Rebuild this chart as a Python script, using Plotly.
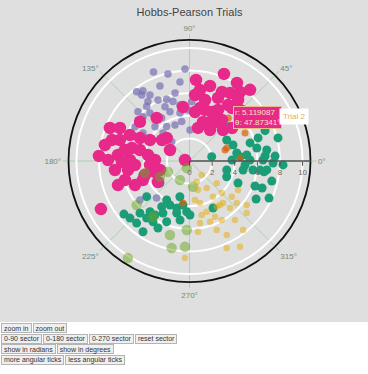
import json
import plotly.graph_objects as go

# ---------------- data ----------------
trial1_r = [4.7, 5.87, 7.2, 3.78, 4.1, 5.59, 6.06, 6.9, 2.0, 4.49, 5.35, 6.5, 3.39, 4.8, 5.67, 6.88,
            8.09, 6.7, 7.58, 7.39, 6.66, 7.49, 6.2, 6.78, 7.76, 3.57, 4.71, 4.65, 4.24, 5.09, 6.29,
            6.4, 4.92, 3.76, 8.28, 6.85,
            4.3, 3.26, 4.93, 4.0, 4.73, 3.27, 4.31, 3.94, 4.49, 5.69, 6.35, 7.21, 7.49, 6.27, 5.74,
            5.29, 4.78, 5.17, 5.67, 4.74, 6.31, 7.46, 4.26, 6.55, 7.29]
trial1_theta = [40.3, 36.3, 21.9, 29.4, 20.2, 16.6, 10.9, 8.1, 11, 4.9, 0.9, 0.8, 346.4, 350.5, 351.9,
                353.4, 14.6, 3.8, 3.3, 358.6, 351.8, 346.3, 339.1, 330.3, 335, 337.1, 335.6, 296.6,
                9.6, 6, 352.7,
                18.6, 355.9, 1.3, 357.6, 339.6,
                196.8, 216.7, 219.8, 239.7, 238.7, 254.9, 254.8, 261.6, 266.8, 232.1, 226.4, 229.6,
                236.7, 239, 249.4, 260.9, 270.5, 243, 237.4, 256.2, 233.1, 219, 246.1, 244.8, 223.8]

trial2_r = [5.119087, 5.5, 3.49, 4.48, 3.29, 3.76, 4.06]
trial2_theta = [47.87341, 26.8, 19.3, 3.4, 17.2, 261.2, 42.5]

trial3_r = [8.15, 7.93, 7.04, 7.13, 7.46, 7.71, 7.21, 6.81, 6.41, 6.08, 5.82, 6.15, 5.45, 5.27, 5.03,
            4.82, 4.51, 4.69, 4.33, 5.5, 5.68, 4.53, 3.55, 3.43, 3.65, 4.3, 5.4, 5.7, 4.8, 3.41,
            2.32, 2.74, 5.25, 6.12, 6.31, 5.58, 4.38, 8.5]
trial3_theta = [92.8, 103.9, 96.9, 111.5, 123.5, 127.3, 125.9, 120.9, 125, 117.3, 110.3, 102, 105.5,
                114.3, 99.6, 94.7, 91.7, 111.6, 101.2, 129.5, 136.4, 122.9, 101.2, 111.9, 123.6,
                135.2, 141.5, 147.8, 149, 133.4, 132.7, 89.1, 87.9, 128.2, 136.3, 218.2, 228.4, 112]

trial4_r = [8.28, 8.08, 8.26, 6.35, 6.88, 7.0, 5.57, 6.12, 6.01, 6.35, 4.77, 4.63, 3.65, 3.02, 3.29,
            4.76, 6.0, 5.86, 4.04, 4.81, 4.79, 5.59, 2.87, 0.41, 7.1, 6.35, 6.64, 5.95, 5.75, 4.49,
            3.96, 4.84, 3.05, 4.13, 2.73, 5.79, 8.02, 8.91, 4.45, 3.35, 6.81, 7.62, 1.98, 5.27,
            7.61, 5.5, 3.51, 4.83, 3.06, 6.67, 6.9, 4.36, 4.12,
            4.72, 5.17, 6.01, 3.9, 4.78, 6.75, 7.57, 7.19,
            6.43, 3.71, 5.97, 5.27, 3.2, 7.21, 5.22]
trial4_theta = [68.4, 58.7, 49.6, 81.6, 74.7, 59.2, 75.7, 65.7, 55.5, 45.3, 65.3, 51.6, 70.9, 75.6,
                56.5, 37.8, 35.1, 85.2, 42.8, 96.9, 127.3, 141.6, 134.7, 167.5, 164.8, 175.2, 186.9,
                196.4, 156.4, 167.5, 152, 184.2, 178.3, 197.5, 197, 170.3, 176.8, 208.5, 202.2,
                213.7, 154.6, 157.5, 150.6, 179, 169.3, 188.3, 185.8, 155.1, 142.6, 198.6, 51.5,
                83.6, 56.8,
                73.1, 60.8, 51.3, 62.3, 78.8, 64.8, 53.8, 85.4,
                163.2, 171.8, 180.8, 203.8, 197.7, 179.3, 167.3]

trial5_r = [2.13, 1.88, 2.3, 2.96, 5.89, 6.11, 6.77, 7.59, 7.86, 10.17, 6.08, 0.67, 4.08]
trial5_theta = [206.5, 243.4, 277.8, 208, 236.8, 267.7, 255.2, 267, 258.4, 237.6, 219.8, 248.2, 195.1]

trial6_r = [1.64, 3.11, 2.67, 2.83, 3.49, 3.78, 4.02, 4.89, 5.59, 6.39, 5.49, 4.74, 4.74, 4.9, 5.42,
            5.95, 6.59, 6.84, 5.57, 5.67, 6.3, 7.73, 7.33, 6.56, 8.37, 8.8, 8.59, 4.75, 3.83, 5.0,
            1.94, 4.7]
trial6_theta = [311.1, 320.7, 286.3, 302.5, 278, 303.4, 315.2, 319.8, 318.3, 322.4, 310.8, 304.7,
                288.7, 282.7, 294.6, 298.6, 307.6, 317.7, 279.6, 288.7, 276.9, 307.8, 296.7, 291.5,
                293.1, 300.5, 267.3, 308.6, 284, 329.1, 289.2, 300.8]

trial_names = ["Trial 1", "Trial 2", "Trial 3", "Trial 4", "Trial 5", "Trial 6"]
radial_ticks = [0, 2, 4, 6, 8, 10]

button_rows = [
    [["zoom in", {"polar.radialaxis.range": [0, 6]}],
     ["zoom out", {"polar.radialaxis.range": [0, 10.7]}]],
    [["0-90 sector", {"polar.sector": [0, 90]}],
     ["0-180 sector", {"polar.sector": [0, 180]}],
     ["0-270 sector", {"polar.sector": [0, 270]}],
     ["reset sector", {"polar.sector": [0, 360]}]],
    [["show in radians", {"polar.angularaxis.thetaunit": "radians"}],
     ["show in degrees", {"polar.angularaxis.thetaunit": "degrees"}]],
    [["more angular ticks", {"polar.angularaxis.dtick": 30}],
     ["less angular ticks", {"polar.angularaxis.dtick": 90}]],
]

# ---------------- styling ----------------
colors = ["rgb(27,158,119)", "rgb(217,95,2)", "rgb(117,112,179)",
          "rgb(231,41,138)", "rgb(102,166,30)", "rgb(230,171,2)"]
sizes = [9, 7, 7.5, 12.5, 10.5, 6.5]
opacities = [1.0, 0.7, 0.7, 1.0, 0.5, 0.5]
series = [(trial1_r, trial1_theta), (trial2_r, trial2_theta), (trial3_r, trial3_theta),
          (trial4_r, trial4_theta), (trial5_r, trial5_theta), (trial6_r, trial6_theta)]

W, H = 368, 322
ML, MR, MT, MB = 45, 34, 40, 40
PW, PH = W - ML - MR, H - MT - MB


def px(x):
    return (x - ML) / PW


def py(y):
    return (H - MB - y) / PH


fig = go.Figure()
for name, (r, th), c, s, o in zip(trial_names, series, colors, sizes, opacities):
    fig.add_trace(go.Scatterpolar(r=r, theta=th, mode="markers", name=name,
                                  marker=dict(color=c, size=s, opacity=o, line=dict(width=0))))

grid_green = "rgb(172,208,176)"
fig.update_layout(
    width=W, height=H,
    margin=dict(l=ML, r=MR, t=MT, b=MB),
    paper_bgcolor="rgb(223,223,223)",
    showlegend=False,
    font=dict(family="Arial, sans-serif", size=8, color="#666"),
    title=dict(text="Hobbs-Pearson Trials", x=0.5, xref="paper", y=1 - 12 / H, yanchor="middle",
               font=dict(size=11, color="#444")),
    polar=dict(
        bgcolor="rgb(223,223,223)",
        radialaxis=dict(range=[0, 10.7], tickvals=radial_ticks, showline=True, linecolor="#555",
                        linewidth=1.5, ticks="outside", ticklen=4, tickcolor="#444",
                        gridcolor="white", gridwidth=1.5, tickfont=dict(size=8, color="#666"),
                        angle=0, side="clockwise"),
        angularaxis=dict(dtick=45, linecolor="#111", linewidth=1.8, ticks="outside", ticklen=5,
                         tickcolor=grid_green, gridcolor=grid_green, gridwidth=0.8,
                         tickfont=dict(size=8, color="#6f8a7c")),
    ),
)

# hover-label look-alike
fig.add_annotation(xref="paper", yref="paper", x=px(233), y=py(117.5), xanchor="left",
                   yanchor="middle", showarrow=False, align="left",
                   text="r: 5.119087<br>θ: 47.87341°",
                   font=dict(size=8, color="rgb(250,226,190)"),
                   bgcolor="rgb(231,41,138)", bordercolor="rgb(230,190,140)", borderwidth=1,
                   borderpad=1)
fig.add_annotation(xref="paper", yref="paper", x=px(279), y=py(116.5), xanchor="left",
                   yanchor="middle", showarrow=False, text="Trial 2",
                   font=dict(size=8, color="rgb(225,175,90)"), bgcolor="white", borderpad=3)

# page set-up: no body margin, HTML control buttons under the chart
post_js = """
document.body.style.margin = '0';
var gd = document.getElementById('{plot_id}');
var rows = ROWS;
var holder = document.createElement('div');
holder.style.paddingTop = '1px';
rows.forEach(function (row) {
  var line = document.createElement('div');
  line.style.height = '10.5px';
  line.style.whiteSpace = 'nowrap';
  line.style.paddingLeft = '1px';
  row.forEach(function (b) {
    var btn = document.createElement('button');
    btn.textContent = b[0];
    btn.style.cssText = 'font:7px Arial,sans-serif;color:#333;background:#efefef;' +
      'border:1px solid #b4b4b4;padding:0 2px;margin:0 1px 0 0;height:10px;' +
      'line-height:7px;vertical-align:top;box-sizing:border-box;';
    btn.onclick = function () { Plotly.relayout(gd, b[1]); };
    line.appendChild(btn);
  });
  holder.appendChild(line);
});
document.body.appendChild(holder);
""".replace("ROWS", json.dumps(button_rows))

fig.write_html("out.html", post_script=post_js, config={"displayModeBar": False})
